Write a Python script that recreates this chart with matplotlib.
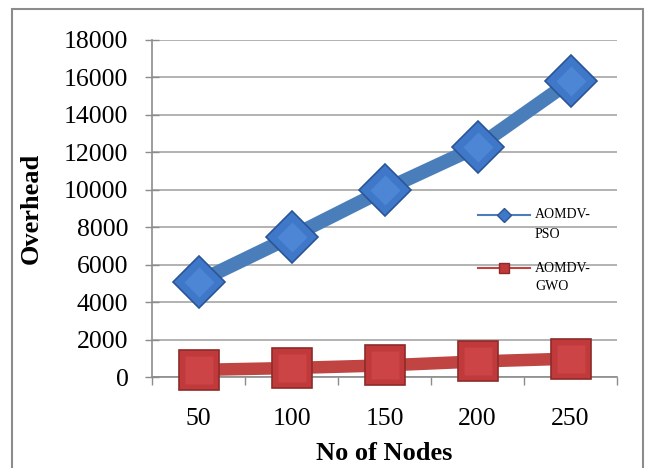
import matplotlib
matplotlib.use("Agg")
import matplotlib.pyplot as plt
from matplotlib.patches import Rectangle
from matplotlib.lines import Line2D

categories = ["50", "100", "150", "200", "250"]
pso = [5100, 7500, 10000, 12300, 15800]
gwo = [380, 480, 620, 830, 980]
series_names = [("AOMDV-", "PSO"), ("AOMDV-", "GWO")]
yticks = list(range(0, 18001, 2000))

plt.rcParams['font.family'] = ['Liberation Serif', 'DejaVu Serif']

W, H = 646, 468
fig = plt.figure(figsize=(W / 100, H / 100), dpi=100)
fig.patches.append(Rectangle((12 / W, -0.01), (643 - 12) / W, 1.01 - 9 / H, transform=fig.transFigure,
                             fill=False, edgecolor='#8c8c8c', linewidth=1.5))
L, R, T, B = 152, 617, 40, 377
ax = fig.add_axes([L / W, 1 - B / H, (R - L) / W, (B - T) / H])

x = list(range(len(categories)))
blue = '#4a7ebb'
red = '#bf4442'
ax.plot(x, pso, color=blue, linewidth=10, solid_capstyle='butt', zorder=3)
ax.plot(x, pso, linestyle='none', marker='D', markersize=26, markerfacecolor='#3f78c8',
        markeredgecolor='#2a5596', markeredgewidth=1.2, zorder=4, clip_on=False)
ax.plot(x, pso, linestyle='none', marker='D', markersize=15, markerfacecolor='#4d86d4',
        markeredgecolor='none', zorder=5, clip_on=False)
ax.plot(x, gwo, color=red, linewidth=9, solid_capstyle='butt', zorder=3)
ax.plot(x, gwo, linestyle='none', marker='s', markersize=29, markerfacecolor='#c0393b',
        markeredgecolor='#8e2a2a', markeredgewidth=1.2, zorder=4, clip_on=False)
ax.plot(x, gwo, linestyle='none', marker='s', markersize=20, markerfacecolor='#cc4446',
        markeredgecolor='none', zorder=5, clip_on=False)

ax.set_xlim(-0.5, len(categories) - 0.5)
ax.set_ylim(0, 18000)
ax.set_yticks(yticks)
ax.set_yticklabels([str(v) for v in yticks])
ax.set_xticks(x)
ax.set_xticklabels(categories)
ax.set_xticks([i - 0.5 for i in range(len(categories) + 1)], minor=True)
ax.tick_params(axis='x', which='major', length=0, labelsize=18.5, pad=22)
ax.tick_params(axis='x', which='minor', length=6, direction='out', color='#8c8c8c', width=1)
ax.tick_params(axis='y', length=10, direction='inout', color='#8c8c8c', width=1, labelsize=18.5, pad=12)
ax.grid(axis='y', color='#a6a6a6', linewidth=1.2)
ax.set_axisbelow(True)
for s in ['top', 'right']:
    ax.spines[s].set_visible(False)
for s in ['left', 'bottom']:
    ax.spines[s].set_color('#8c8c8c')
    ax.spines[s].set_linewidth(1.2)

ax.set_xlabel("No of Nodes", fontsize=19, fontweight='bold')
ax.xaxis.set_label_coords((384 - L) / (R - L), (B - 453) / (B - T))
ax.xaxis.label.set_va('center')
ax.set_ylabel("Overhead", fontsize=19, fontweight='bold')
ax.yaxis.set_label_coords((31 - L) / (R - L), 0.5)
ax.yaxis.label.set_va('center')

def fx(px):
    return (px - L) / (R - L)

def fy(py):
    return (B - py) / (B - T)

leg_specs = [(blue, 'D', 7, '#3f78c8', '#2a5596', 215),
             (red, 's', 6.5, '#c0393b', '#8e2a2a', 268)]
for (col, mk, ms, fc, ec, py), (l1, l2) in zip(leg_specs, series_names):
    ax.add_line(Line2D([fx(478), fx(530)], [fy(py), fy(py)], transform=ax.transAxes,
                       color=col, linewidth=1.5, clip_on=False))
    ax.add_line(Line2D([fx(504)], [fy(py)], transform=ax.transAxes, marker=mk, markersize=ms,
                       markerfacecolor=fc, markeredgecolor=ec, linestyle='none', clip_on=False))
    ax.text(fx(535), fy(py), l1, transform=ax.transAxes, fontsize=10, va='center', ha='left')
    ax.text(fx(535), fy(py + 19), l2, transform=ax.transAxes, fontsize=10, va='center', ha='left')

fig.savefig("out.png", dpi=100)
